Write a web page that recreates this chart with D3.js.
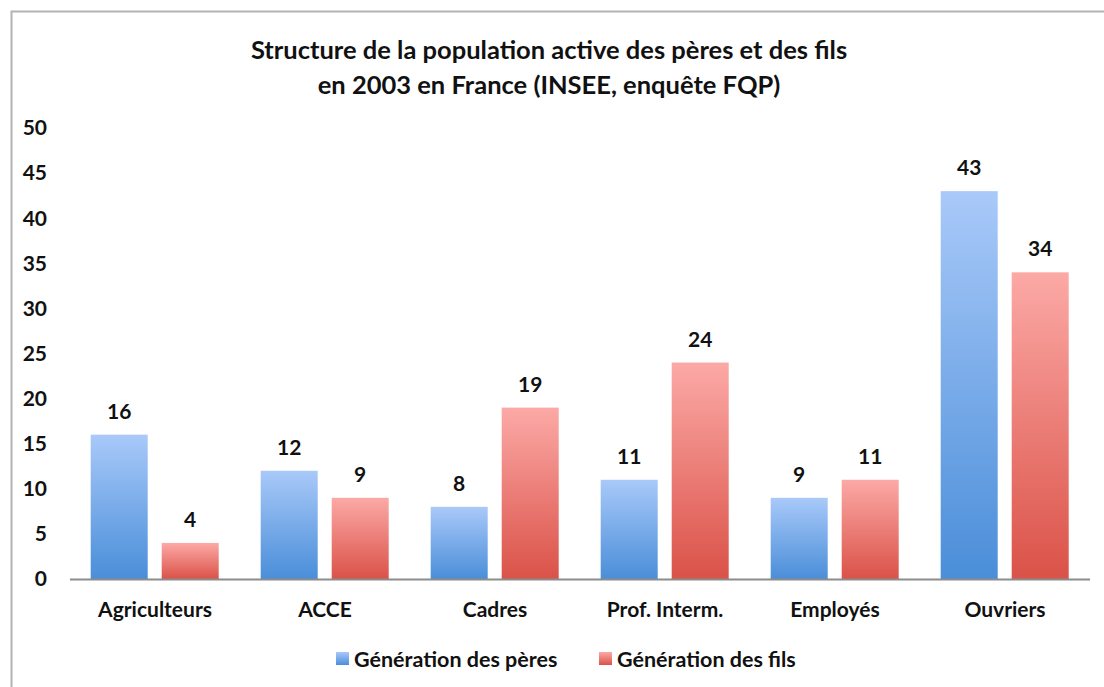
<!DOCTYPE html>
<html lang="fr">
<head>
<meta charset="utf-8">
<title>Structure de la population active</title>
<script src="https://d3js.org/d3.v7.min.js"></script>
<style>
  body { margin: 0; background: #fff; }
  text { font-family: Lato, "Open Sans", sans-serif; font-weight: bold; fill: #111; }
</style>
</head>
<body>
<svg id="chart" width="1104" height="687"></svg>
<script>
// data
const categories = ["Agriculteurs", "ACCE", "Cadres", "Prof. Interm.", "Employés", "Ouvriers"];
const peres = [16, 12, 8, 11, 9, 43];
const fils = [4, 9, 19, 24, 11, 34];
const seriesNames = ["Génération des pères", "Génération des fils"];
const yTicks = [0, 5, 10, 15, 20, 25, 30, 35, 40, 45, 50];
const titleLines = ["Structure de la population active des pères et des fils",
                    "en 2003 en France (INSEE, enquête FQP)"];

const svg = d3.select("#chart");

// frame
svg.append("rect")
  .attr("x", 11.5).attr("y", 11.5)
  .attr("width", 1110).attr("height", 700)
  .attr("fill", "none").attr("stroke", "#b3b3b3").attr("stroke-width", 2);

// gradients
const defs = svg.append("defs");
const grads = [
  { id: "gBlue", top: "#a9c9f9", bottom: "#4a8ed9" },
  { id: "gRed", top: "#fca9a6", bottom: "#da5248" }
];
grads.forEach(g => {
  let lg = defs.append("linearGradient").attr("id", g.id)
    .attr("x1", 0).attr("y1", 0).attr("x2", 0).attr("y2", 1);
  lg.append("stop").attr("offset", "0%").attr("stop-color", g.top);
  lg.append("stop").attr("offset", "100%").attr("stop-color", g.bottom);
});

const plotLeft = 70, plotRight = 1090, plotTop = 128, plotBottom = 579;

let x = d3.scaleBand().domain(categories).range([plotLeft, plotRight]);
let y = d3.scaleLinear().domain([0, 50]).range([plotBottom, plotTop]);

// title
svg.append("text")
  .attr("x", 549).attr("y", 59)
  .attr("text-anchor", "middle")
  .style("font-size", "25.5px")
  .selectAll("tspan").data(titleLines).enter().append("tspan")
  .attr("x", 549).attr("dy", (d, i) => i ? 35 : 0)
  .text(d => d);

// y axis labels (no line)
svg.append("g").selectAll("text").data(yTicks).enter().append("text")
  .attr("x", 47).attr("y", d => y(d))
  .attr("dy", "0.35em")
  .attr("text-anchor", "end")
  .style("font-size", "21px")
  .text(d => d);

// bars
const barW = 57;
const offsets = [20.7, 91.7];
const series = [peres, fils];

series.forEach((vals, s) => {
  let g = svg.append("g");
  g.selectAll("rect").data(vals).enter().append("rect")
    .attr("x", (d, i) => x(categories[i]) + offsets[s])
    .attr("y", d => y(d))
    .attr("width", barW)
    .attr("height", d => y(0) - y(d))
    .attr("fill", "url(#" + grads[s].id + ")");
  g.selectAll("text").data(vals).enter().append("text")
    .attr("x", (d, i) => x(categories[i]) + offsets[s] + barW / 2)
    .attr("y", d => y(d) - 16)
    .attr("text-anchor", "middle")
    .style("font-size", "21px")
    .text(d => d);
});

// baseline
svg.append("line")
  .attr("x1", plotLeft).attr("x2", plotRight)
  .attr("y1", plotBottom + 0.5).attr("y2", plotBottom + 0.5)
  .attr("stroke", "#8c8c8c").attr("stroke-width", 2);

// category labels
svg.append("g").selectAll("text").data(categories).enter().append("text")
  .attr("x", d => x(d) + x.bandwidth() / 2)
  .attr("y", 617)
  .attr("text-anchor", "middle")
  .style("font-size", "21px")
  .text(d => d);

// legend
const legendX = [336, 599];
let lg = svg.append("g").selectAll("g").data(seriesNames).enter().append("g")
  .attr("transform", (d, i) => "translate(" + legendX[i] + ",652)");
lg.append("rect")
  .attr("width", 13).attr("height", 13)
  .attr("fill", (d, i) => "url(#" + grads[i].id + ")");
lg.append("text")
  .attr("x", 18).attr("y", 15)
  .style("font-size", "21.5px")
  .text(d => d);
</script>
</body>
</html>
